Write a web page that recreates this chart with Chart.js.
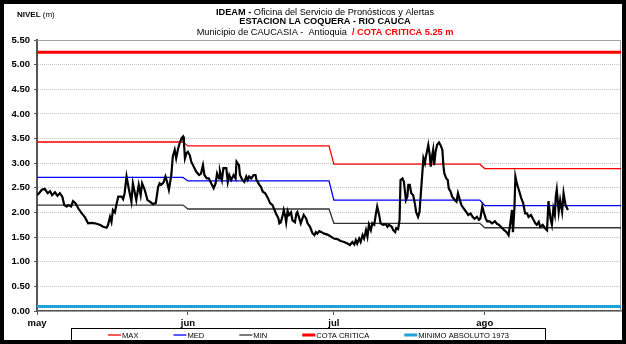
<!DOCTYPE html>
<html lang="es">
<head>
<meta charset="UTF-8">
<title>Estación La Coquera - Río Cauca</title>
<script src="https://cdn.jsdelivr.net/npm/chart.js@4.4.0/dist/chart.umd.min.js"></script>
<style>
  body { margin: 0; background: #fff; }
  #marco { width: 626px; height: 344px; box-sizing: border-box; border: 4px solid #000; background: #fff; }
  #marco canvas { display: block; }
</style>
</head>
<body>
<div id="marco"><canvas id="nivelChart" width="618" height="336"></canvas></div>
<script>
// meses del eje (día contado desde el 1 de mayo)
const meses = ['may', 'jun', 'jul', 'ago'];
const inicioMes = [0, 31, 61, 92];
const diaFinal = 120;

// niveles históricos mensuales (m)
const nivelMax = [3.43, 3.35, 2.98, 2.89];
const nivelMed = [2.71, 2.64, 2.25, 2.14];
const nivelMin = [2.15, 2.07, 1.78, 1.69];
const cotaCritica = 5.25;
const minimoAbsoluto = 0.09;

// lecturas del año en curso
const obsDia = [
  0.0, 0.5, 1.0, 1.6, 2.2, 2.7, 3.1, 3.7, 4.2, 4.7, 5.2, 5.6, 6.1, 6.4, 7.0, 7.4, 7.9, 8.5, 9.2, 9.8,
  10.5, 11.2, 11.9, 12.9, 13.6, 14.3, 14.6, 15.0, 15.3, 15.6, 16.0, 16.3, 16.7, 17.4, 17.7, 18.0, 18.4, 18.9, 19.4, 19.7,
  20.4, 20.9, 21.3, 21.6, 22.1, 22.7, 23.2, 23.8, 24.4, 24.7, 24.9, 25.2, 25.5, 26.0, 26.4, 26.7, 27.1, 27.6, 27.9, 28.3,
  28.6, 29.0, 29.3, 29.7, 30.0, 30.2, 30.4, 30.7, 31.0, 31.4, 31.7, 32.2, 32.7, 33.3, 33.7, 34.1, 34.4, 34.9, 35.3, 35.8,
  36.3, 36.7, 37.0, 37.4, 37.6, 38.0, 38.3, 38.9, 39.2, 39.5, 39.9, 40.4, 40.8, 41.0, 41.5, 41.7, 42.2, 42.6, 43.0, 43.3,
  43.6, 44.0, 44.5, 44.9, 45.1, 45.7, 46.0, 46.4, 46.9, 47.4, 47.9, 48.4, 49.1, 49.6, 49.8, 50.1, 50.5, 50.7, 51.0, 51.2,
  51.5, 51.8, 52.2, 52.5, 53.0, 53.3, 53.5, 53.9, 54.2, 54.8, 55.3, 55.6, 56.1, 56.6, 57.0, 57.3, 57.6, 58.0, 58.5, 59.0,
  59.7, 60.4, 61.0, 61.7, 62.4, 63.1, 63.8, 64.3, 64.8, 65.2, 65.5, 65.8, 66.2, 66.5, 66.9, 67.2, 67.6, 67.9, 68.2, 68.6,
  68.9, 69.3, 69.6, 69.9, 70.3, 70.6, 71.1, 71.7, 72.0, 72.3, 72.9, 73.2, 73.6, 73.8, 74.2, 74.5, 74.7, 75.1, 75.4, 75.8,
  76.1, 76.3, 76.6, 76.9, 77.3, 77.7, 77.9, 78.3, 78.6, 78.9, 79.2, 79.4, 79.7, 79.9, 80.2, 80.4, 80.7, 80.9, 81.1, 81.4,
  81.6, 81.9, 82.2, 82.6, 82.9, 83.3, 83.5, 83.7, 84.1, 84.4, 84.6, 85.0, 85.3, 85.9, 86.2, 86.5, 86.9, 87.2, 87.7, 88.2,
  88.6, 89.1, 89.5, 89.9, 90.4, 90.8, 91.1, 91.5, 91.8, 92.2, 92.5, 93.0, 93.5, 94.1, 94.5, 94.9, 95.6, 96.0, 96.5, 96.9,
  97.3, 97.6, 97.8, 98.1, 98.3, 98.6, 99.0, 99.5, 99.9, 100.3, 100.7, 101.0, 101.5, 101.9, 102.4, 102.7, 103.1, 103.4, 103.9, 104.4,
  104.8, 105.1, 105.5, 105.8, 106.1, 106.4, 106.6, 106.8, 107.2, 107.5, 107.9, 108.2, 108.6, 109.1
];
const obsNivel = [
  2.35, 2.40, 2.46, 2.48, 2.39, 2.43, 2.35, 2.41, 2.34, 2.39, 2.32, 2.15, 2.12, 2.15, 2.12, 2.23, 2.19, 2.08, 1.98, 1.91,
  1.78, 1.79, 1.78, 1.75, 1.71, 1.69, 1.75, 1.91, 1.81, 2.05, 2.00, 2.15, 2.32, 2.32, 2.27, 2.39, 2.73, 2.46, 2.22, 2.59,
  2.25, 2.56, 2.35, 2.59, 2.47, 2.25, 2.22, 2.17, 2.19, 2.39, 2.52, 2.59, 2.56, 2.61, 2.73, 2.63, 2.46, 2.76, 3.13, 3.27,
  3.10, 3.30, 3.40, 3.51, 3.54, 3.40, 3.10, 3.20, 3.23, 3.16, 3.03, 2.93, 2.83, 2.76, 2.79, 2.96, 2.76, 2.69, 2.69, 2.59,
  2.49, 2.59, 2.79, 2.69, 2.83, 2.66, 2.90, 2.90, 2.62, 2.76, 2.66, 2.76, 2.69, 3.03, 2.96, 2.76, 2.66, 2.62, 2.73, 2.66,
  2.73, 2.69, 2.76, 2.76, 2.66, 2.56, 2.52, 2.42, 2.39, 2.30, 2.19, 2.15, 1.98, 1.88, 1.78, 1.80, 1.95, 2.05, 1.93, 1.80,
  2.03, 1.95, 2.00, 1.84, 1.80, 1.98, 2.01, 1.88, 1.78, 1.95, 1.88, 1.78, 1.71, 1.58, 1.54, 1.60, 1.57, 1.62, 1.60, 1.57,
  1.55, 1.51, 1.47, 1.46, 1.42, 1.40, 1.37, 1.34, 1.40, 1.35, 1.44, 1.37, 1.47, 1.40, 1.54, 1.47, 1.64, 1.51, 1.75, 1.64,
  1.78, 1.75, 1.95, 2.12, 1.95, 1.78, 1.75, 1.76, 1.71, 1.75, 1.71, 1.64, 1.60, 1.68, 1.66, 1.85, 2.66, 2.69, 2.62, 2.25,
  2.32, 2.56, 2.56, 2.39, 2.35, 2.15, 2.01, 1.91, 2.01, 2.42, 2.83, 3.10, 3.00, 3.13, 3.27, 3.37, 3.17, 2.93, 3.10, 3.27,
  2.96, 3.23, 3.37, 3.42, 3.37, 3.27, 2.96, 2.79, 2.69, 2.66, 2.49, 2.42, 2.32, 2.25, 2.22, 2.39, 2.25, 2.15, 2.08, 2.01,
  1.95, 1.98, 1.91, 1.87, 1.91, 1.85, 1.88, 2.12, 2.01, 1.88, 1.82, 1.82, 1.78, 1.82, 1.77, 1.75, 1.68, 1.64, 1.60, 1.54,
  1.81, 2.05, 1.60, 2.08, 2.73, 2.59, 2.46, 2.29, 2.19, 1.98, 1.98, 1.91, 1.95, 1.87, 1.78, 1.75, 1.81, 1.71, 1.75, 1.68,
  1.64, 2.23, 1.88, 1.75, 2.08, 1.95, 2.32, 2.46, 2.01, 2.25, 2.01, 2.39, 2.15, 2.05
];

const FUENTE = '"Liberation Sans", Arial, sans-serif';
Chart.defaults.font.family = FUENTE;
Chart.defaults.color = '#000';

// valor constante por mes, con el cambio en el último día del mes anterior
function escalonada(valores) {
    const pts = [];
    valores.forEach((v, i) => {
        const desde = inicioMes[i];
        const hasta = i + 1 < inicioMes.length ? inicioMes[i + 1] - 1 : diaFinal;
        pts.push({x: desde, y: v}, {x: hasta, y: v});
    });
    return pts;
}
function constante(v) {
    return [{x: 0, y: v}, {x: diaFinal, y: v}];
}

// encabezado con tramos de distinto estilo
function pintarTramos(ctx, tramos, cx, y) {
    let total = 0;
    tramos.forEach(t => { ctx.font = t.font; t.w = ctx.measureText(t.txt).width; total += t.w; });
    let x = cx - total / 2;
    tramos.forEach(t => {
        ctx.font = t.font;
        ctx.fillStyle = t.color || '#000';
        ctx.fillText(t.txt, x, y);
        x += t.w;
    });
}

const encabezado = {
    id: 'encabezado',
    afterDraw(chart) {
        const ctx = chart.ctx;
        const n = '9.2px ' + FUENTE, b = 'bold 9.2px ' + FUENTE;
        ctx.save();
        ctx.textBaseline = 'middle';
        ctx.textAlign = 'left';
        pintarTramos(ctx, [{txt: 'IDEAM - ', font: b}, {txt: 'Oficina del Servicio de Pronósticos y Alertas', font: n}], 321, 8);
        pintarTramos(ctx, [{txt: 'ESTACION LA COQUERA - RIO CAUCA', font: b}], 321, 17.5);
        pintarTramos(ctx, [{txt: 'Municipio de CAUCASIA -  Antioquia  ', font: n},
                           {txt: '/ COTA CRITICA 5.25 m', font: b, color: '#ff0000'}], 321, 28);
        ctx.font = 'bold 8px ' + FUENTE;
        ctx.fillStyle = '#000';
        ctx.fillText('NIVEL', 13, 11);
        const w = ctx.measureText('NIVEL ').width;
        ctx.font = '8px ' + FUENTE;
        ctx.fillText('(m)', 13 + w, 11);
        ctx.restore();
    }
};

// borde superior y derecho del área de trazado
const marcoArea = {
    id: 'marcoArea',
    beforeDatasetsDraw(chart) {
        const {ctx, chartArea: a} = chart;
        ctx.save();
        ctx.strokeStyle = '#a0a0a0';
        ctx.lineWidth = 1;
        ctx.beginPath();
        ctx.moveTo(a.left, a.top + 0.5);
        ctx.lineTo(a.right - 0.5, a.top + 0.5);
        ctx.lineTo(a.right - 0.5, a.bottom);
        ctx.stroke();
        ctx.restore();
    }
};

// leyenda en recuadro bajo el eje
const leyendaCaja = {
    id: 'leyendaCaja',
    afterDraw(chart) {
        const ctx = chart.ctx;
        ctx.save();
        ctx.strokeStyle = '#000';
        ctx.lineWidth = 1;
        ctx.strokeRect(67.5, 324.5, 474, 13);
        ctx.font = '7.6px ' + FUENTE;
        ctx.textBaseline = 'middle';
        const y = 331;
        let x = 104;
        chart.data.datasets.slice(1).forEach(ds => {
            ctx.strokeStyle = ds.borderColor;
            ctx.lineWidth = ds.borderWidth;
            ctx.beginPath();
            ctx.moveTo(x, y);
            ctx.lineTo(x + 13, y);
            ctx.stroke();
            ctx.fillStyle = '#000';
            ctx.fillText(ds.label, x + 14, y + 0.5);
            x += 14 + ctx.measureText(ds.label).width + 35;
        });
        ctx.restore();
    }
};

const ctx = document.getElementById('nivelChart');
new Chart(ctx, {
    type: 'line',
    data: {
        datasets: [
            {
                label: 'NIVEL',
                data: obsDia.map((d, i) => ({x: d, y: obsNivel[i]})),
                borderColor: '#000',
                borderWidth: 2.2,
                pointRadius: 0,
                tension: 0
            },
            { label: 'MAX', data: escalonada(nivelMax), borderColor: '#ff0000', borderWidth: 1.3, pointRadius: 0 },
            { label: 'MED', data: escalonada(nivelMed), borderColor: '#0000ff', borderWidth: 1.3, pointRadius: 0 },
            { label: 'MIN', data: escalonada(nivelMin), borderColor: '#333333', borderWidth: 1.3, pointRadius: 0 },
            { label: 'COTA CRITICA', data: constante(cotaCritica), borderColor: '#ff0000', borderWidth: 3, pointRadius: 0 },
            { label: 'MINIMO ABSOLUTO 1973', data: constante(minimoAbsoluto), borderColor: '#20a0d8', borderWidth: 3, pointRadius: 0 }
        ]
    },
    options: {
        responsive: false,
        devicePixelRatio: 1,
        animation: false,
        layout: { padding: { top: 36, right: 1, left: 0, bottom: 0 } },
        plugins: { legend: { display: false }, tooltip: { enabled: false } },
        scales: {
            x: {
                type: 'linear',
                min: 0,
                max: diaFinal,
                afterBuildTicks: s => { s.ticks = inicioMes.map(v => ({value: v})); },
                afterFit: s => { s.height = 29; },
                grid: { drawOnChartArea: false, drawTicks: true, tickLength: 4, color: '#555' },
                border: { color: '#555', width: 1.5 },
                ticks: {
                    autoSkip: false,
                    maxRotation: 0,
                    padding: 3,
                    font: { size: 9.5, weight: 'bold' },
                    callback: v => meses[inicioMes.indexOf(v)]
                }
            },
            y: {
                min: 0,
                max: 5.5,
                afterFit: s => { s.width = 33; },
                grid: { color: '#c4c4c4', lineWidth: 1, tickLength: 3, tickColor: '#555' },
                border: { color: '#555', width: 2, dash: [1, 1] },
                ticks: {
                    stepSize: 0.5,
                    padding: 4,
                    font: { size: 9.5, weight: 'bold' },
                    callback: v => v.toFixed(2)
                }
            }
        }
    },
    plugins: [marcoArea, encabezado, leyendaCaja]
});
</script>
</body>
</html>
